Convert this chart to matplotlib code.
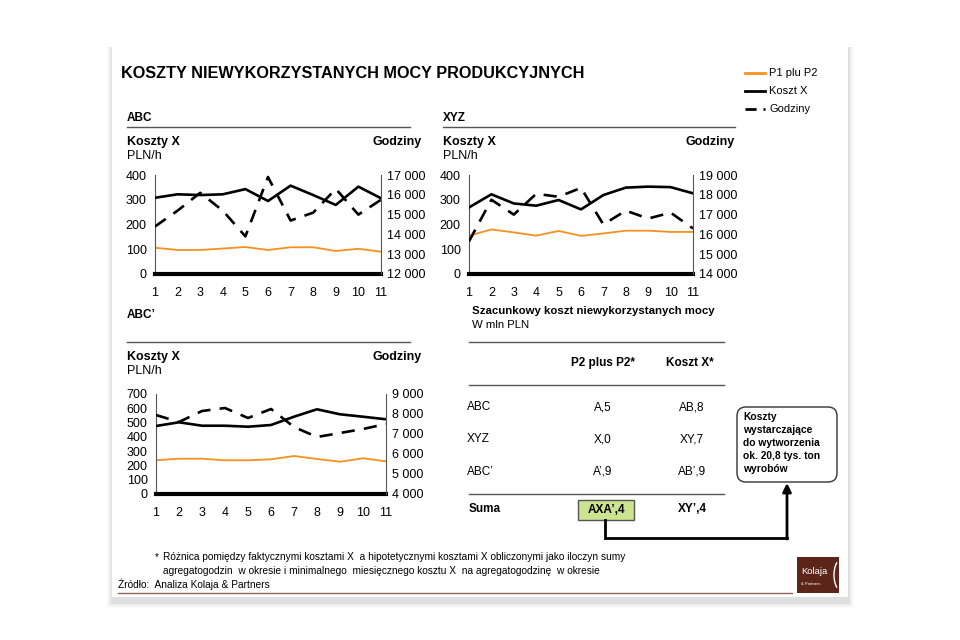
import matplotlib.pyplot as plt
from matplotlib.patches import Rectangle, FancyBboxPatch, Arc
from matplotlib.ticker import FuncFormatter

plt.rcParams['font.family'] = ['Liberation Sans', 'DejaVu Sans']

# dane
x = list(range(1, 12))

abc_p = [106, 97, 97, 103, 109, 97, 108, 108, 93, 102, 90]
abc_koszt = [308, 322, 319, 322, 343, 295, 357, 319, 279, 353, 306]
abc_godz = [14400, 15200, 16100, 15200, 13900, 16900, 14700, 15100, 16300, 15000, 15750]

xyz_p = [155, 180, 168, 155, 174, 154, 164, 175, 175, 170, 170]
xyz_koszt = [269, 322, 285, 276, 299, 261, 319, 349, 353, 351, 326]
xyz_godz = [15650, 17750, 17000, 18050, 17900, 18350, 16500, 17200, 16800, 17100, 16300]

abcp_p = [236, 247, 247, 236, 236, 243, 266, 245, 226, 250, 229]
abcp_koszt = [476, 502, 478, 478, 471, 483, 541, 593, 558, 541, 523]
abcp_godz = [7950, 7600, 8150, 8300, 7800, 8250, 7350, 6850, 7050, 7250, 7500]

wiersze = ['ABC', 'XYZ', 'ABC’']
kol_p = ['A,5', 'X,0', 'A’,9']
kol_k = ['AB,8', 'XY,7', 'AB’,9']
suma_p = 'AXA’,4'
suma_k = 'XY’,4'

ORANGE = '#F7901E'
W, H = 960, 640

fig = plt.figure(figsize=(9.6, 6.4), dpi=100)

# warstwa tła (współrzędne w pikselach)
ov = fig.add_axes([0, 0, 1, 1])
ov.set_xlim(0, W)
ov.set_ylim(H, 0)
ov.axis('off')

# cień i slajd
for i, a in enumerate([0.015, 0.025, 0.035, 0.05]):
    d = 6 - i * 1.5
    ov.add_patch(Rectangle((112 - d, 45 + 2), 736 + 2 * d, 552 + d + 3,
                           facecolor='#000000', alpha=a, lw=0))
ov.add_patch(Rectangle((112, 45), 736, 552, facecolor='white', lw=0))

ov.text(121, 74, 'KOSZTY NIEWYKORZYSTANYCH MOCY PRODUKCYJNYCH',
        fontsize=11.7, fontweight='bold', va='center')

# legenda
ov.plot([745, 765], [73, 73], color=ORANGE, lw=2)
ov.plot([745, 765], [91, 91], color='black', lw=2)
ov.plot([745, 765], [109, 109], color='black', lw=2, dashes=(4, 2.5))
ov.text(769, 73, 'P1 plu P2', fontsize=8, va='center')
ov.text(769, 91, 'Koszt X', fontsize=8, va='center')
ov.text(769, 109, 'Godziny', fontsize=8, va='center')


def naglowek(x0, x1, y_t, y_line, tytul):
    ov.text(x0, y_t, tytul, fontsize=8.5, fontweight='bold', va='center')
    ov.plot([x0, x1], [y_line, y_line], color='#555555', lw=1)
    ov.text(x0, y_line + 15, 'Koszty X', fontsize=9, fontweight='bold', va='center')
    ov.text(x0, y_line + 29, 'PLN/h', fontsize=9, va='center')
    ov.text(x1 + 12 if x1 < 420 else x1, y_line + 15, 'Godziny', fontsize=9,
            fontweight='bold', va='center', ha='right')


naglowek(127, 410, 118, 127, 'ABC')
naglowek(443, 735, 118, 127, 'XYZ')
naglowek(127, 410, 315, 342, 'ABC’')


def wykres(box, p, koszt, godz, ylim, yticks, rlim, rticks):
    l, r, t, b = box
    ax = fig.add_axes([l / W, 1 - b / H, (r - l) / W, (b - t) / H])
    ax.patch.set_alpha(0)
    ax.plot(x, p, color=ORANGE, lw=1.3, zorder=2)
    ax.plot(x, koszt, color='black', lw=1.9, zorder=3)
    ax.set_xlim(1, 11)
    ax.set_ylim(*ylim)
    ax.set_yticks(yticks)
    ax.set_xticks(x)
    ax.tick_params(axis='y', length=0, labelsize=9, pad=6)
    ax.tick_params(axis='x', length=0, labelsize=9, pad=9)
    ax.spines['top'].set_visible(False)
    ax.spines['left'].set_color('#555555')
    ax.spines['right'].set_visible(False)
    ax.spines['bottom'].set_linewidth(3)
    ax2 = ax.twinx()
    ax2.plot(x, godz, color='black', lw=1.9, dashes=(5, 3.5))
    ax2.set_ylim(*rlim)
    ax2.set_yticks(rticks)
    ax2.yaxis.set_major_formatter(FuncFormatter(lambda v, pos: f'{int(v):,}'.replace(',', ' ')))
    ax2.tick_params(length=0, labelsize=9, pad=4)
    ax2.spines['top'].set_visible(False)
    ax2.spines['left'].set_visible(False)
    ax2.spines['bottom'].set_visible(False)
    ax2.spines['right'].set_color('#555555')


wykres((155, 381, 175, 274), abc_p, abc_koszt, abc_godz,
       (0, 400), range(0, 401, 100), (12000, 17000), range(12000, 17001, 1000))
wykres((469, 693, 175, 274), xyz_p, xyz_koszt, xyz_godz,
       (0, 400), range(0, 401, 100), (14000, 19000), range(14000, 19001, 1000))
wykres((156, 386, 394, 494), abcp_p, abcp_koszt, abcp_godz,
       (0, 700), range(0, 701, 100), (4000, 9000), range(4000, 9001, 1000))

# tabela
ov.text(472, 311, 'Szacunkowy koszt niewykorzystanych mocy', fontsize=8.2,
        fontweight='bold', va='center')
ov.text(472, 325, 'W mln PLN', fontsize=8.2, va='center')
for yl in [342, 385, 494]:
    ov.plot([469, 724], [yl, yl], color='#555555', lw=1)
ov.text(603, 363, 'P2 plus P2*', fontsize=8.5, fontweight='bold', ha='center', va='center')
ov.text(690, 363, 'Koszt X*', fontsize=8.5, fontweight='bold', ha='center', va='center')
for i, (w, vp, vk) in enumerate(zip(wiersze, kol_p, kol_k)):
    yy = [407, 439, 472][i]
    ov.text(467, yy, w, fontsize=8.5, va='center')
    ov.text(603, yy, vp, fontsize=8.5, ha='center', va='center')
    ov.text(692, yy, vk, fontsize=8.5, ha='center', va='center')
ov.text(469, 509, 'Suma', fontsize=8.5, fontweight='bold', va='center')
ov.add_patch(Rectangle((578, 500), 56, 20, facecolor='#CCE38F', edgecolor='#555555', lw=1))
ov.text(606, 510, suma_p, fontsize=8.5, fontweight='bold', ha='center', va='center')
ov.text(692, 509, suma_k, fontsize=8.5, fontweight='bold', ha='center', va='center')

# dymek ze strzałką
ov.add_patch(FancyBboxPatch((741, 411), 92, 67, boxstyle='round,pad=4,rounding_size=9',
                            facecolor='white', edgecolor='#333333', lw=1))
ov.text(743, 412, 'Koszty\nwystarczające\ndo wytworzenia\nok. 20,8 tys. ton\nwyrobów',
        fontsize=7.4, fontweight='bold', va='top', linespacing=1.38)
ov.plot([605, 605, 787], [520, 538, 538], color='black', lw=2, solid_joinstyle='miter')
ov.annotate('', xy=(787, 483), xytext=(787, 539),
            arrowprops=dict(arrowstyle='-|>,head_length=0.5,head_width=0.25',
                            lw=2, color='black', shrinkA=0, shrinkB=0))

# przypis
ov.text(155, 557, '*', fontsize=7.3, va='center')
ov.text(163, 557, 'Różnica pomiędzy faktycznymi kosztami X  a hipotetycznymi kosztami X obliczonymi jako iloczyn sumy',
        fontsize=7.3, va='center')
ov.text(163, 571, 'agregatogodzin  w okresie i minimalnego  miesięcznego kosztu X  na agregatogodzinę  w okresie',
        fontsize=7.3, va='center')
ov.text(118, 584, 'Źródło:  Analiza Kolaja & Partners', fontsize=7.3, va='center')
ov.plot([118, 792], [593, 593], color='#8C6458', lw=1)

# logo
ov.add_patch(Rectangle((797, 557), 42, 36, facecolor='#5B2619', lw=0))
ov.text(801, 572, 'Kolaja', fontsize=6.8, color='white', va='center')
ov.text(801, 584, '& Partners', fontsize=3, color='white', va='center')
ov.add_patch(Arc((843, 575), 18, 34, theta1=115, theta2=245, color='white', lw=1))

fig.savefig('out.png', dpi=100)
